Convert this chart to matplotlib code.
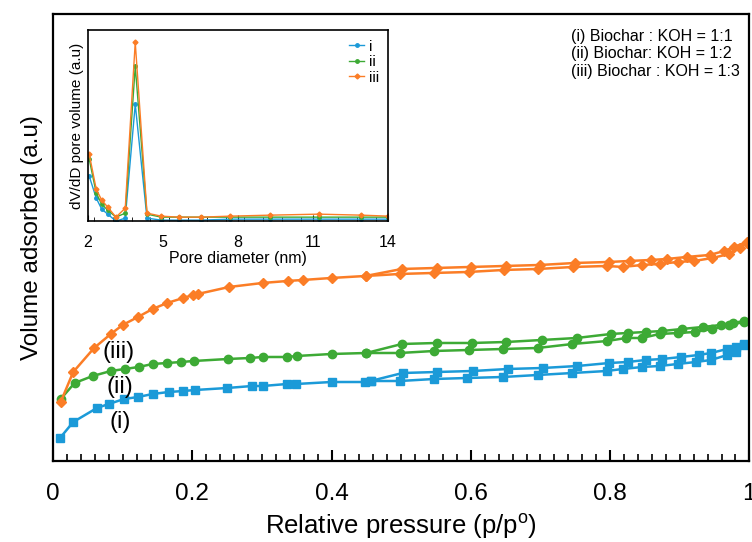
import numpy as np
import matplotlib
matplotlib.use("Agg")
import matplotlib.pyplot as plt
from matplotlib.ticker import MultipleLocator

plt.rcParams['font.family'] = ['Liberation Sans', 'DejaVu Sans']

#Isotherm data (i) Biochar : KOH = 1:1  (blue, squares)
p_i_ads = [0.010, 0.029, 0.063, 0.080, 0.102, 0.122, 0.143, 0.166, 0.187, 0.204, 0.250, 0.286,
           0.301, 0.336, 0.349, 0.400, 0.448, 0.456, 0.498, 0.547, 0.595, 0.646, 0.696, 0.746,
           0.795, 0.818, 0.846, 0.871, 0.897, 0.923, 0.945, 0.968, 0.981, 0.993]
v_i_ads = [23, 39, 53, 57, 62, 64, 67, 69, 70, 71, 73, 75, 75, 77, 77, 79, 79, 80, 80, 82, 83,
           84, 86, 88, 90, 92, 94, 95, 97, 99, 101, 106, 109, 116]
p_i_des = [0.993, 0.981, 0.968, 0.945, 0.927, 0.902, 0.875, 0.851, 0.825, 0.799, 0.753, 0.703,
           0.653, 0.603, 0.551, 0.502, 0.456]
v_i_des = [117, 114, 112, 108, 106, 104, 102, 101, 99, 98, 95, 93, 92, 90, 89, 88, 80]

#(ii) Biochar: KOH = 1:2  (green, circles)
p_ii_ads = [0.011, 0.031, 0.057, 0.083, 0.103, 0.123, 0.143, 0.164, 0.184, 0.202, 0.251, 0.283,
            0.301, 0.336, 0.350, 0.400, 0.450, 0.498, 0.547, 0.597, 0.646, 0.696, 0.746, 0.796,
            0.823, 0.846, 0.871, 0.898, 0.922, 0.947, 0.971, 0.993]
v_ii_ads = [62, 78, 85, 90, 92, 94, 97, 98, 99, 100, 102, 103, 104, 104, 105, 107, 108, 108, 110,
            111, 112, 113, 117, 120, 123, 123, 127, 128, 129, 132, 136, 139]
p_ii_des = [0.993, 0.976, 0.959, 0.933, 0.903, 0.875, 0.851, 0.825, 0.801, 0.752, 0.702, 0.651,
            0.601, 0.551, 0.501, 0.450]
v_ii_des = [140, 138, 136, 134, 132, 130, 129, 128, 127, 123, 121, 119, 118, 118, 117, 108]

#(iii) Biochar : KOH = 1:3  (orange, diamonds)
p_iii_ads = [0.011, 0.029, 0.059, 0.083, 0.100, 0.122, 0.143, 0.164, 0.187, 0.201, 0.208, 0.253,
             0.301, 0.337, 0.359, 0.400, 0.449, 0.498, 0.547, 0.597, 0.647, 0.697, 0.747, 0.796,
             0.818, 0.846, 0.871, 0.897, 0.921, 0.947, 0.971, 0.986, 0.996]
v_iii_ads = [59, 89, 113, 127, 136, 144, 152, 158, 163, 166, 167, 174, 178, 180, 181, 183, 185,
             187, 188, 189, 191, 192, 194, 195, 194, 196, 197, 199, 200, 203, 207, 213, 218]
p_iii_des = [0.996, 0.978, 0.964, 0.943, 0.910, 0.882, 0.859, 0.828, 0.799, 0.750, 0.700, 0.650,
             0.600, 0.551, 0.501, 0.449]
v_iii_des = [219, 214, 210, 206, 204, 202, 201, 200, 199, 198, 196, 195, 194, 193, 192, 185]

#Pore size distribution (inset)
d_nm = [2.05, 2.33, 2.55, 2.79, 3.12, 3.49, 3.89, 4.36, 4.93, 5.63, 6.52, 7.69, 9.29, 11.23, 12.93, 14.0]
psd_i = [45, 23, 12, 7, 0, 3, 117, 3, 1, 1, 1, 2, 2, 2, 2, 2]
psd_ii = [62, 28, 17, 11, 4, 8, 155, 7, 4, 4, 4, 4, 4, 4, 4, 4]
psd_iii = [67, 32, 21, 14, 4, 13, 179, 8, 5, 4, 4, 5, 6, 7, 6, 5]

c_i = "#1b9ad8"
c_ii = "#3daa35"
c_iii = "#fb7d26"

fig = plt.figure(figsize=(7.52, 5.42), dpi=100)
ax = fig.add_axes([0.0705, 0.1494, 0.926, 0.825])

#Main isotherms
ax.plot(p_i_ads, v_i_ads, color=c_i, marker="s", ms=6, lw=1.8)
ax.plot(p_i_des, v_i_des, color=c_i, marker="s", ms=6, lw=1.8)
ax.plot(p_ii_ads, v_ii_ads, color=c_ii, marker="o", ms=6, lw=1.8)
ax.plot(p_ii_des, v_ii_des, color=c_ii, marker="o", ms=6, lw=1.8)
ax.plot(p_iii_ads, v_iii_ads, color=c_iii, marker="D", ms=5, lw=1.8)
ax.plot(p_iii_des, v_iii_des, color=c_iii, marker="D", ms=5, lw=1.8)

ax.text(0.094, 109, "(iii)", fontsize=17, ha="center", va="center")
ax.text(0.096, 74, "(ii)", fontsize=17, ha="center", va="center")
ax.text(0.096, 39, "(i)", fontsize=17, ha="center", va="center")

ax.text(0.744, 432, "(i) Biochar : KOH = 1:1\n(ii) Biochar: KOH = 1:2\n(iii) Biochar : KOH = 1:3",
        fontsize=11.5, ha="left", va="top", linespacing=1.2)

ax.set_xlim(0, 1)
ax.set_ylim(0, 447)
ax.set_xticks([0, 0.2, 0.4, 0.6, 0.8, 1.0])
ax.set_xticklabels(["0", "0.2", "0.4", "0.6", "0.8", "1"], fontsize=17.5)
ax.xaxis.set_minor_locator(MultipleLocator(0.02))
ax.tick_params(axis="x", which="major", direction="in", length=8, width=1.5, pad=16)
ax.tick_params(axis="x", which="minor", direction="in", length=5, width=1.2)
ax.set_yticks([])
ax.set_xlabel("Relative pressure (p/p$^{\\mathregular{o}}$)", fontsize=18.5)
ax.xaxis.label.set_va("baseline")
ax.xaxis.set_label_coords(0.5, -0.162)
ax.set_ylabel("Volume adsorbed (a.u)", fontsize=17.5, labelpad=7)
for s in ax.spines.values():
    s.set_linewidth(1.6)

#Inset
axin = fig.add_axes([0.117, 0.592, 0.399, 0.352])
axin.plot(d_nm, psd_i, color=c_i, marker="o", ms=2.5, lw=1.0, label="i")
axin.plot(d_nm, psd_ii, color=c_ii, marker="o", ms=2.5, lw=1.0, label="ii")
axin.plot(d_nm, psd_iii, color=c_iii, marker="D", ms=2.5, lw=1.0, label="iii")
axin.set_xlim(2, 14)
axin.set_ylim(0, 191)
axin.set_xticks([2, 5, 8, 11, 14])
axin.xaxis.set_minor_locator(MultipleLocator(0.75))
axin.tick_params(axis="x", which="major", direction="in", length=4, labelsize=11.5, pad=10)
axin.tick_params(axis="x", which="minor", direction="in", length=3)
axin.set_yticks([])
axin.set_xlabel("Pore diameter (nm)", fontsize=11.5, labelpad=1)
axin.set_ylabel("dV/dD pore volume (a.u)", fontsize=11, labelpad=3)
axin.legend(loc="upper right", fontsize=11, frameon=False, handlelength=1.0,
            handletextpad=0.3, labelspacing=0.1, borderaxespad=0.2)
for s in axin.spines.values():
    s.set_linewidth(1.2)

plt.savefig("out.png", dpi=100)
